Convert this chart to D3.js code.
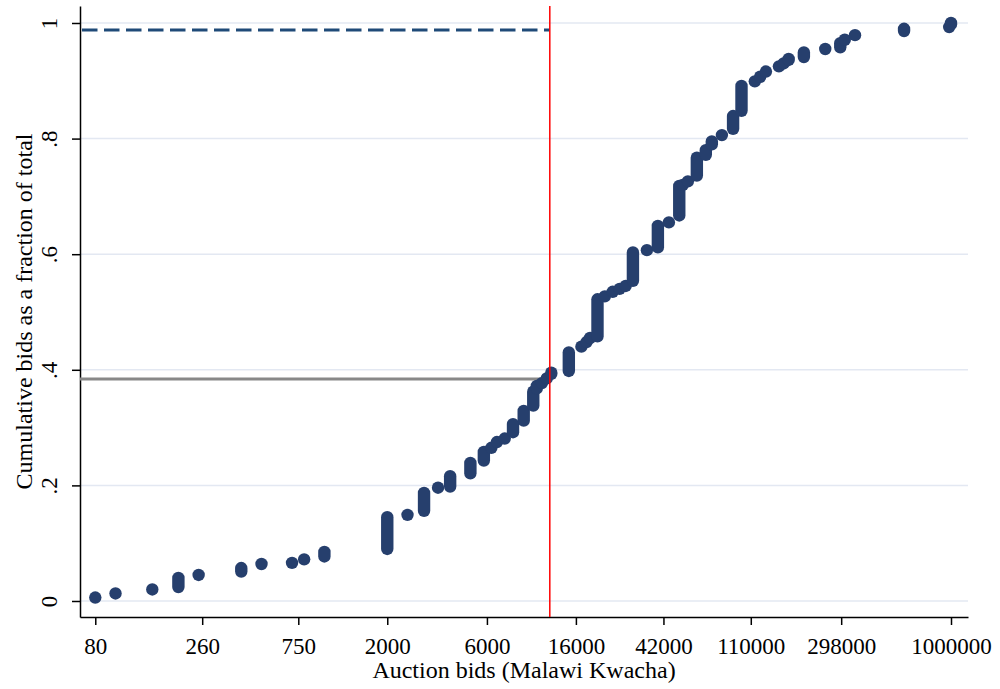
<!DOCTYPE html>
<html>
<head>
<meta charset="utf-8">
<script src="https://cdn.jsdelivr.net/npm/d3@7.9.0/dist/d3.min.js"></script>
<style>
  body { margin: 0; background: #fff; }
  svg { display: block; }
  text { font-family: "Liberation Serif", "Times New Roman", serif; fill: #000; }
</style>
</head>
<body>
<svg></svg>
<script>
const width = 1000;
const height = 689;
const margin = { top: 6, right: 32, bottom: 72, left: 80 };

// each group: one bid value, cumulative fraction at first and last observation
const bids = [80, 100, 150, 200, 250, 400, 500, 700, 800, 1000,
  2000, 2500, 3000, 3500, 4000, 5000, 5800, 6300, 6700, 7300,
  8000, 9000, 10000, 10400, 11000, 11600, 12200, 14800, 17000, 18000,
  18700, 20300, 22000, 24000, 25900, 27700, 30000, 35000, 39500, 44600,
  50000, 52000, 55000, 60700, 67000, 71600, 80000, 90500, 99300, 115000,
  122000, 130000, 150000, 158000, 167000, 197500, 250000, 295000, 310000, 347000,
  596000, 980000, 1000000];
const cumLow = [0.006, 0.013, 0.020, 0.024, 0.045, 0.051, 0.064, 0.066, 0.072, 0.077,
  0.090, 0.149, 0.156, 0.196, 0.198, 0.221, 0.243, 0.265, 0.275, 0.281,
  0.292, 0.312, 0.338, 0.368, 0.377, 0.385, 0.393, 0.398, 0.440, 0.448,
  0.455, 0.458, 0.527, 0.535, 0.540, 0.545, 0.554, 0.607, 0.612, 0.655,
  0.667, 0.720, 0.726, 0.736, 0.772, 0.790, 0.806, 0.817, 0.848, 0.899,
  0.907, 0.916, 0.925, 0.930, 0.936, 0.941, 0.955, 0.958, 0.971, 0.979,
  0.986, 0.993, 0.998];
const cumHigh = [0.006, 0.013, 0.020, 0.040, 0.045, 0.057, 0.064, 0.066, 0.072, 0.085,
  0.145, 0.149, 0.187, 0.196, 0.216, 0.239, 0.258, 0.265, 0.275, 0.281,
  0.306, 0.329, 0.362, 0.372, 0.377, 0.385, 0.395, 0.430, 0.440, 0.448,
  0.455, 0.522, 0.527, 0.535, 0.540, 0.545, 0.603, 0.607, 0.649, 0.655,
  0.718, 0.720, 0.726, 0.767, 0.780, 0.795, 0.806, 0.839, 0.891, 0.899,
  0.907, 0.916, 0.925, 0.930, 0.938, 0.949, 0.955, 0.965, 0.971, 0.979,
  0.990, 0.993, 1.000];

const xTicks = [80, 260, 750, 2000, 6000, 16000, 42000, 110000, 298000, 1000000];
const yTicks = [0, 0.2, 0.4, 0.6, 0.8, 1];

const cutoffBid = 12000;     // red vertical line
const cutoffShare = 0.384;   // grey horizontal line
const topShare = 0.988;      // dashed line

const groups = bids.map((b, i) => ({ bid: b, lo: cumLow[i], hi: cumHigh[i] }));

const svg = d3.select("svg")
  .attr("width", width)
  .attr("height", height);

const x = d3.scaleLog()
  .domain([67.6, 1206000])
  .range([margin.left, width - margin.right]);

const y = d3.scaleLinear()
  .domain([-0.0277, 1.0294])
  .range([height - margin.bottom, margin.top]);

// grid
svg.append("g")
  .selectAll("line")
  .data(yTicks)
  .join("line")
  .attr("x1", margin.left)
  .attr("x2", width - margin.right)
  .attr("y1", d => y(d))
  .attr("y2", d => y(d))
  .attr("stroke", "#e3e8f2")
  .attr("stroke-width", 1.5);

// y axis
const yAxis = svg.append("g")
  .attr("transform", `translate(${margin.left},0)`)
  .call(d3.axisLeft(y)
    .tickValues(yTicks)
    .tickSize(8)
    .tickSizeOuter(0)
    .tickFormat(d => d === 0 ? "0" : d === 1 ? "1" : String(d).replace(/^0/, "")));

yAxis.selectAll("text")
  .attr("x", null)
  .attr("dy", null)
  .attr("text-anchor", "middle")
  .attr("transform", "translate(-23,0) rotate(-90)")
  .style("font-size", "23px")
  .style("font-family", "Liberation Serif, serif");

// x axis
const xAxis = svg.append("g")
  .attr("transform", `translate(0,${height - margin.bottom})`)
  .call(d3.axisBottom(x)
    .tickValues(xTicks)
    .tickSize(8)
    .tickSizeOuter(0)
    .tickFormat(d3.format("d")));

xAxis.selectAll("text")
  .attr("y", 37)
  .attr("dy", null)
  .style("font-size", "23px")
  .style("font-family", "Liberation Serif, serif");

svg.selectAll(".domain, .tick line")
  .attr("stroke", "#000")
  .attr("stroke-width", 1.5);

// reference lines
svg.append("line")
  .attr("x1", margin.left)
  .attr("x2", x(cutoffBid))
  .attr("y1", y(cutoffShare))
  .attr("y2", y(cutoffShare))
  .attr("stroke", "#888")
  .attr("stroke-width", 3);

svg.append("line")
  .attr("x1", margin.left + 2)
  .attr("x2", x(cutoffBid))
  .attr("y1", y(topShare))
  .attr("y2", y(topShare))
  .attr("stroke", "#1f4a78")
  .attr("stroke-width", 3)
  .attr("stroke-dasharray", "15.5,6.5");

// markers: each group drawn as a capsule from first to last observation
const r = 6.2;
svg.append("g")
  .selectAll("rect")
  .data(groups)
  .join("rect")
  .attr("x", d => x(d.bid) - r)
  .attr("y", d => y(d.hi) - r)
  .attr("width", 2 * r)
  .attr("height", d => y(d.lo) - y(d.hi) + 2 * r)
  .attr("rx", r)
  .attr("ry", r)
  .attr("fill", "#263f6d");

svg.append("line")
  .attr("x1", x(cutoffBid))
  .attr("x2", x(cutoffBid))
  .attr("y1", margin.top)
  .attr("y2", height - margin.bottom)
  .attr("stroke", "#ff0000")
  .attr("stroke-width", 1.5);

// axis titles
svg.append("text")
  .attr("x", (margin.left + width - margin.right) / 2)
  .attr("y", 678)
  .attr("text-anchor", "middle")
  .style("font-size", "24px")
  .text("Auction bids (Malawi Kwacha)");

svg.append("text")
  .attr("transform", `translate(32,${(margin.top + height - margin.bottom) / 2}) rotate(-90)`)
  .attr("text-anchor", "middle")
  .style("font-size", "24px")
  .text("Cumulative bids as a fraction of total");
</script>
</body>
</html>
